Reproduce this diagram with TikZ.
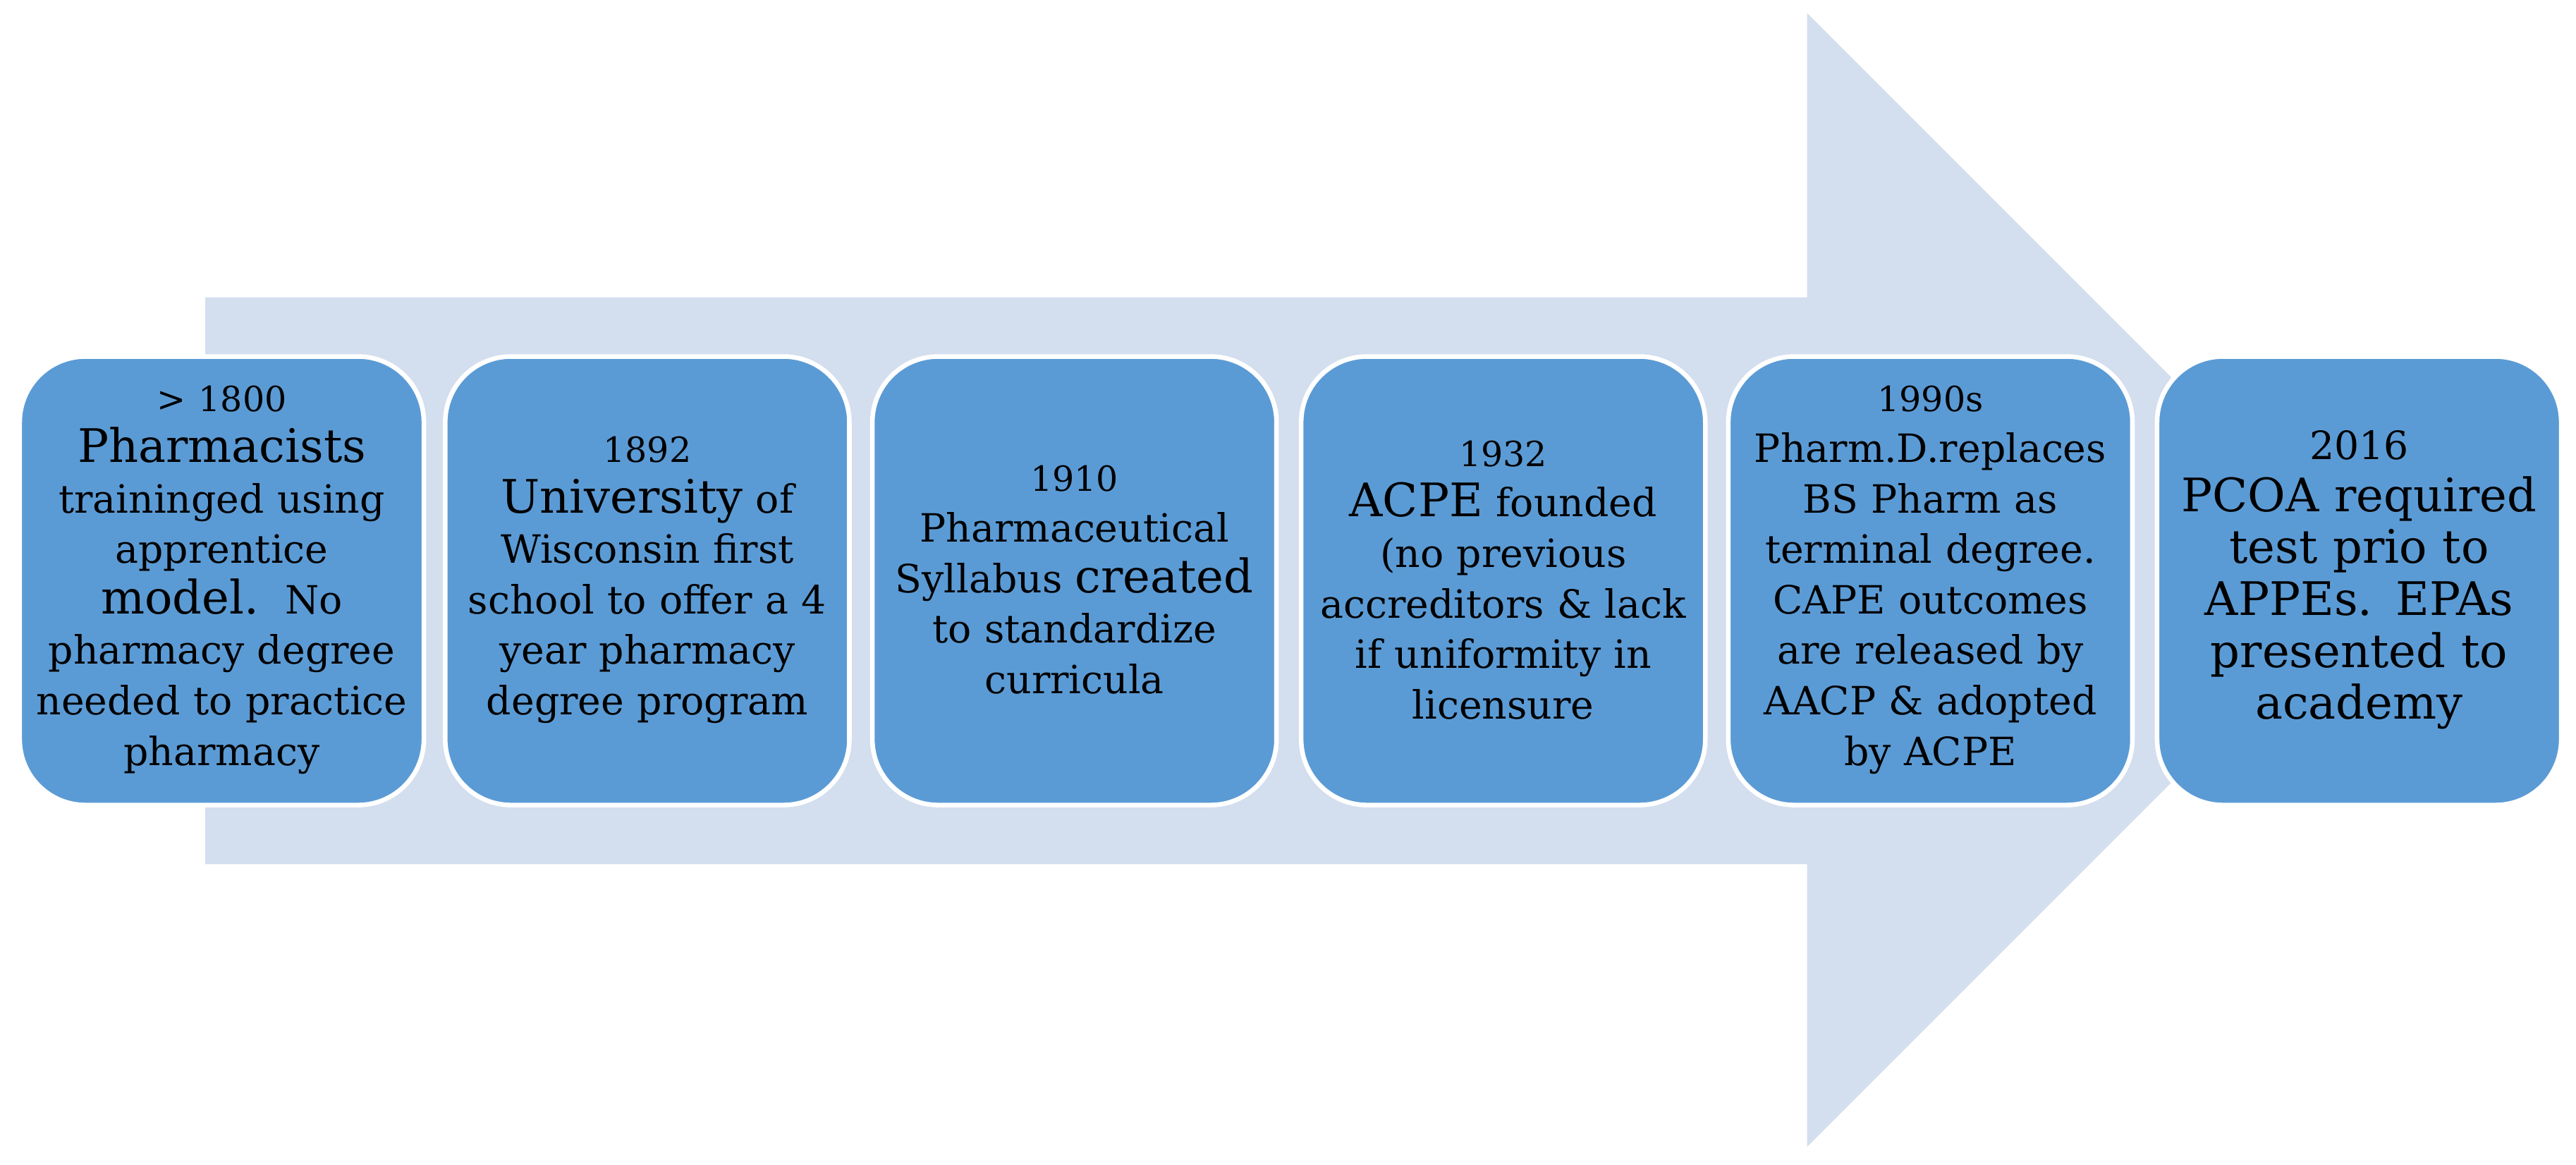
\documentclass[tikz,border=0pt]{standalone}
\usepackage{fontspec}
\setmainfont{DejaVu Serif}
\newcommand{\fsm}{\fontsize{12}{16}\selectfont}
\newcommand{\fmd}{\fontsize{13.5}{17.5}\selectfont}
\newcommand{\flg}{\fontsize{16}{18}\selectfont}
\begin{document}
\begin{tikzpicture}[x=0.02cm,y=-0.02cm,
  box/.style={draw=white,line width=1.6pt,fill=boxblue,rounded corners=0.8cm},
  txt/.style={text=black,align=center,text width=4.7cm,font=\fmd}]
\definecolor{boxblue}{HTML}{5B9BD5}
\definecolor{arrowbg}{HTML}{D3DEEE}
\useasboundingbox (0,0) rectangle (1568,709);
\fill[arrowbg] (125,181) -- (1100,181) -- (1100,8) -- (1445,353) -- (1100,698) -- (1100,526) -- (125,526) -- cycle;
\foreach \i/\x in {1/12,2/271,3/531,4/792,5/1052,6/1313}{
  \draw[box] (\x,217) rectangle (\x+246,490);
  \coordinate (c\i) at (\x+123,353);
}
\node[txt] (t1) at (c1) {{\fsm > 1800}\\{\flg Pharmacists}\\traininged using\\apprentice\\{\flg model.}\ \ No\\pharmacy degree\\needed to practice\\pharmacy};
\node[txt] (t2) at (c2) {{\fsm 1892}\\{\flg University} of\\Wisconsin first\\school to offer a 4\\year pharmacy\\degree program};
\node[txt] (t3) at (c3) {{\fsm 1910}\\Pharmaceutical\\Syllabus {\flg created}\\to standardize\\curricula};
\node[txt] (t4) at (c4) {{\fsm 1932}\\{\flg ACPE} founded\\(no previous\\accreditors \& lack\\if uniformity in\\licensure};
\node[txt] (t5) at (c5) {{\fsm 1990s}\\Pharm.D.replaces\\BS Pharm as\\terminal degree.\\CAPE outcomes\\are released by\\AACP \& adopted\\by ACPE};
\node[txt,font=\flg] (t6) at (c6) {{\fmd 2016}\\PCOA required\\test prio to\\APPEs. EPAs\\presented to\\academy};
\end{tikzpicture}
\end{document}
